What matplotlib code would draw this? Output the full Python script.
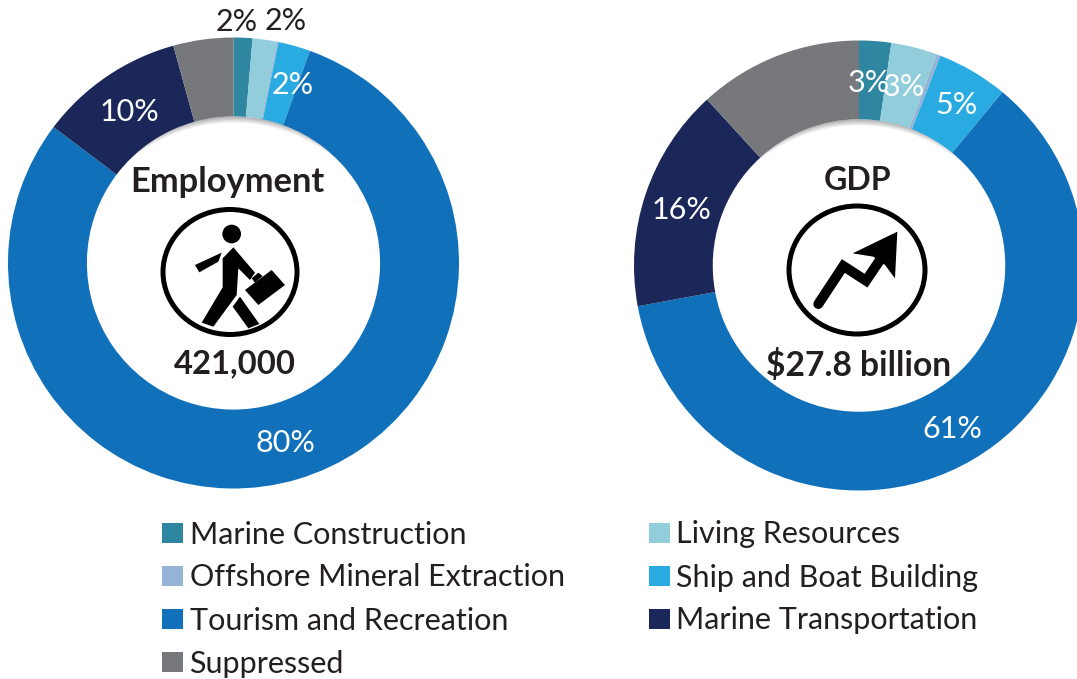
import matplotlib.pyplot as plt
from matplotlib.patches import Circle, Ellipse, Polygon

W, H = 1077, 679

categories = ["Marine Construction", "Living Resources", "Offshore Mineral Extraction", "Ship and Boat Building",
              "Tourism and Recreation", "Marine Transportation", "Suppressed"]
employment = [1.35, 1.75, 0.1, 2.3, 79.8, 10.4, 4.3]
gdp = [2.3, 3.3, 0.3, 5.1, 61.1, 16.1, 11.8]
colors = ["#2E86A0", "#92CDDC", "#95B3D7", "#29ABE2", "#1170BA", "#1C2759", "#77787B"]
# legend order in the picture, two columns
legend_left = [0, 2, 4, 6]
legend_right = [1, 3, 5]

INK = "#231F20"
plt.rcParams["font.family"] = ["Lato", "DejaVu Sans"]

fig = plt.figure(figsize=(W / 100, H / 100), dpi=100, facecolor="white")


def donut(values, cx, cy, r):
    ax = fig.add_axes([(cx - r) / W, 1 - (cy + r) / H, 2 * r / W, 2 * r / H])
    ax.pie(values, colors=colors, startangle=90, counterclock=False, radius=1,
           wedgeprops={"width": 0.35, "linewidth": 0, "zorder": 2})
    ax.set_xlim(-1, 1)
    ax.set_ylim(-1, 1)
    ax.axis("off")
    # soft shadow at the top of the hole, the wedges cover the rest of each circle
    for k in range(8):
        g = 0.70 + k * 0.30 / 7
        ax.add_patch(Circle((0, -0.07 - k * 0.9 / r), 0.72, fc=(g, g, g), ec="none", zorder=1))


donut(employment, 233.5, 263, 225.5)
donut(gdp, 859, 265.5, 225)

# overlay in pixel coordinates for the labels and icons
ov = fig.add_axes([0, 0, 1, 1])
ov.set_xlim(0, W)
ov.set_ylim(H, 0)
ov.axis("off")

pct_labels = [
    ("2%", 237, 22, INK), ("2%", 286, 21, INK), ("2%", 293, 85, "white"), ("10%", 129, 112, "white"),
    ("80%", 285, 443, "white"), ("3%", 869, 83, "white"), ("3%", 904, 87, "white"), ("5%", 956, 105, "white"),
    ("16%", 682, 210, "white"), ("61%", 952, 429, "white"),
]
for label, x, y, c in pct_labels:
    ov.text(x, y, label, color=c, fontsize=22, ha="center", va="center")

for label, x, y, size in [("Employment", 227, 182, 24.8), ("421,000", 235, 364, 23.6), ("GDP", 858, 180, 23),
                          ("$27.8 billion", 859, 366, 24.2)]:
    ov.text(x, y, label, color=INK, fontsize=size, fontweight="bold", ha="center", va="center")


# person icon, traced in zoom coordinates
def person(x, y):
    return (x / 3 + 140, y / 3 + 200)


ov.add_patch(Ellipse((230, 272), 134, 125, fc="none", ec="black", lw=3.6))
ov.add_patch(Ellipse(person(275, 102), 56 / 3, 56 / 3, fc="black", ec="none"))
shapes = [
    [(165, 195), (245, 158), (235, 185), (178, 217)],
    [(248, 175), (280, 142), (345, 218), (330, 240), (295, 205), (290, 285), (220, 380), (185, 368), (248, 262)],
    [(278, 320), (300, 290), (358, 372), (325, 385)],
    [(315, 270), (395, 210), (435, 255), (355, 315)],
    [(335, 235), (355, 218), (368, 228), (345, 248)],
]
for pts in shapes:
    ov.add_patch(Polygon([person(*p) for p in pts], fc="black", ec="none"))


# growth arrow icon
def arrow(x, y):
    return (x / 3 + 770, y / 3 + 210)


ov.add_patch(Ellipse((857, 270), 136, 128, fc="none", ec="black", lw=3.6))
line = [arrow(*p) for p in [(145, 282), (220, 168), (288, 212), (330, 150)]]
ov.plot([p[0] for p in line], [p[1] for p in line], color="black", lw=7.2, solid_capstyle="round",
        solid_joinstyle="miter")
head = [(382, 65), (248, 130), (310, 140), (345, 165), (375, 205)]
ov.add_patch(Polygon([arrow(*p) for p in head], fc="black", ec="none"))

# legend
rows = [533, 576, 619, 662]
for idx, y in zip(legend_left, rows):
    ov.add_patch(plt.Rectangle((162, y - 10), 21, 20, fc=colors[idx], ec="none"))
    ov.text(189.5, y + 1.5, categories[idx], color=INK, fontsize=22, ha="left", va="center")
for idx, y in zip(legend_right, rows):
    ov.add_patch(plt.Rectangle((649, y - 10), 21, 20, fc=colors[idx], ec="none"))
    ov.text(676.5, y + 1.5, categories[idx], color=INK, fontsize=22, ha="left", va="center")

fig.savefig("out.png", dpi=100)
